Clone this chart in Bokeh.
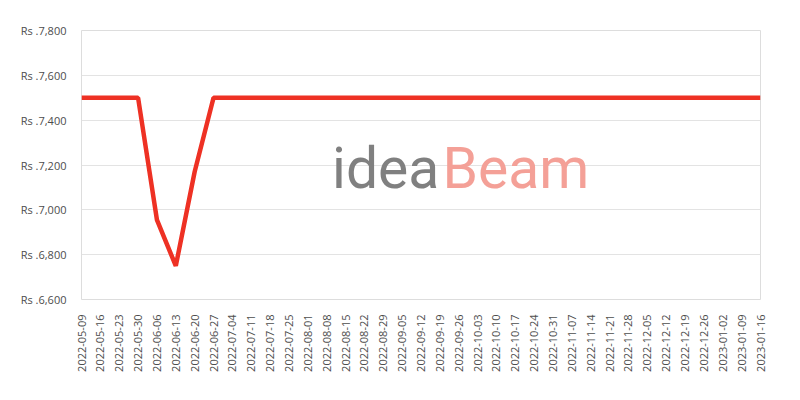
import math
import pandas as pd
from bokeh.plotting import figure
from bokeh.models import (ColumnDataSource, FixedTicker, DatetimeTickFormatter,
                          CustomJSTickFormatter, Range1d, Label)
from bokeh.embed import file_html
from bokeh.resources import INLINE

# ---- data ----
dates = pd.date_range("2022-05-09", "2023-01-16", freq="7D")
prices = [7500, 7500, 7500, 7500, 6955, 6750, 7170] + [7500] * (len(dates) - 7)
y_ticks = [6600, 6800, 7000, 7200, 7400, 7600, 7800]

src = ColumnDataSource(dict(x=dates, y=prices))

p = figure(width=784, height=384, x_axis_type="datetime",
           output_backend="svg", toolbar_location=None,
           min_border_left=81, min_border_right=24,
           min_border_top=30, min_border_bottom=85)

p.x_range = Range1d(dates[0], dates[-1])
p.y_range = Range1d(6600, 7800)

p.line("x", "y", source=src, line_color="#EE3124", line_width=4.5)

# axes
tick_ms = [d.value // 10**6 for d in dates]
p.xaxis.ticker = FixedTicker(ticks=tick_ms)
fmt = "%Y-%m-%d"
p.xaxis.formatter = DatetimeTickFormatter(
    milliseconds=fmt, seconds=fmt, minsec=fmt, minutes=fmt, hourmin=fmt,
    hours=fmt, days=fmt, months=fmt, years=fmt)
p.xaxis.major_label_orientation = math.pi / 2
p.yaxis.ticker = FixedTicker(ticks=y_ticks)
p.yaxis.formatter = CustomJSTickFormatter(
    code="return 'Rs .' + tick.toLocaleString('en-US');")

for ax in (p.xaxis[0], p.yaxis[0]):
    ax.axis_line_color = None
    ax.major_tick_line_color = None
    ax.minor_tick_line_color = None
    ax.major_label_text_color = "#4d4d4d"
    ax.major_label_text_font = "Open Sans"
    ax.major_label_text_font_size = "11px"
    ax.major_label_standoff = 9

p.xgrid.grid_line_color = None
p.ygrid.grid_line_color = "#e3e3e3"
p.ygrid.grid_line_width = 1
p.outline_line_color = "#dddddd"
p.outline_line_width = 1
p.background_fill_color = "white"
p.border_fill_color = "white"

# watermark
wx = pd.Timestamp("2022-08-10").value // 10**6
p.add_layout(Label(x=wx, y=7185, text="idea", text_font="Roboto",
                   text_font_size="57px", text_color="#808080",
                   text_baseline="alphabetic"))
wx2 = pd.Timestamp("2022-09-20").value // 10**6
p.add_layout(Label(x=wx2, y=7185, text="Beam", text_font="Roboto",
                   text_font_size="57px", text_color="#F4A097",
                   text_baseline="alphabetic"))

open("out.html", "w").write(file_html(p, INLINE))
